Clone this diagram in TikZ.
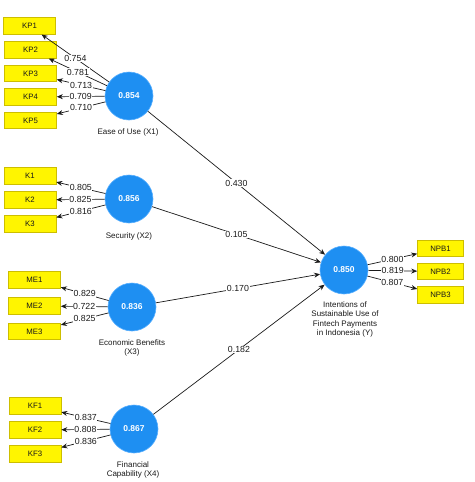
\documentclass[tikz,border=0pt]{standalone}
\usepackage{fontspec}
\setmainfont{Liberation Sans}
\usetikzlibrary{arrows.meta}
\definecolor{boxfill}{HTML}{FFF500}
\definecolor{boxline}{HTML}{CDBE00}
\definecolor{latfill}{HTML}{1E8FF2}
\definecolor{latline}{HTML}{5AB0FF}
\definecolor{txt}{HTML}{1A1A1A}
\begin{document}
\begin{tikzpicture}[x=1pt,y=-1pt,
  indbox/.style={draw=boxline,fill=boxfill,line width=0.6pt,minimum width=52pt,minimum height=16.5pt,inner sep=0pt,font=\fontsize{7.8}{8}\selectfont,text=txt},
  npbbox/.style={indbox,minimum width=46pt},
  latent/.style={circle,draw=latline,fill=latfill,line width=0.6pt,minimum size=48pt,inner sep=0pt,text=white,font=\fontsize{8.5}{9}\selectfont\bfseries},
  latlab/.style={align=center,font=\fontsize{8}{9.2}\selectfont,text=txt,inner sep=0pt},
  load/.style={midway,fill=white,inner sep=0.6pt,font=\fontsize{8.8}{9}\selectfont,text=txt},
  arr/.style={draw=txt,line width=0.7pt,-{Stealth[length=6pt,width=5pt]}}
]
\useasboundingbox (0,0) rectangle (474,482);
\fill[white] (0,0) rectangle (474,482);

% latent variables
\node[latent] (X1) at (129,96) {0.854};
\node[latent] (X2) at (129,199) {0.856};
\node[latent] (X3) at (132,307) {0.836};
\node[latent] (X4) at (134,429) {0.867};
\node[latent] (Y) at (344,270) {0.850};

\node[latlab] (L1) at (128,132) {Ease of Use (X1)};
\node[latlab] (L2) at (129,236) {Security (X2)};
\node[latlab] (L3) at (132,348) {Economic Benefits\\(X3)};
\node[latlab] (L4) at (133,470) {Financial\\Capability (X4)};
\node[latlab] (LY) at (345,319.5) {Intentions of\\Sustainable Use of\\Fintech Payments\\in Indonesia (Y)};

% indicators
\node[indbox] (KP1) at (29.5,26) {KP1};
\node[indbox] (KP2) at (30.5,50) {KP2};
\node[indbox] (KP3) at (30.5,73.5) {KP3};
\node[indbox] (KP4) at (30.5,97) {KP4};
\node[indbox] (KP5) at (30.5,120.5) {KP5};

\node[indbox] (K1) at (30,176) {K1};
\node[indbox] (K2) at (30,200) {K2};
\node[indbox] (K3) at (30,224) {K3};

\node[indbox] (ME1) at (34.5,280) {ME1};
\node[indbox] (ME2) at (34.5,306) {ME2};
\node[indbox] (ME3) at (34.5,331.5) {ME3};

\node[indbox] (KF1) at (35,406) {KF1};
\node[indbox] (KF2) at (35,430) {KF2};
\node[indbox] (KF3) at (35,454) {KF3};

\node[npbbox] (NPB1) at (440.5,248.5) {NPB1};
\node[npbbox] (NPB2) at (440.5,271.5) {NPB2};
\node[npbbox] (NPB3) at (440.5,295) {NPB3};

% outer loadings
\draw[arr] (X1) -- (KP1) node[load] {0.754};
\draw[arr] (X1) -- (KP2) node[load] {0.781};
\draw[arr] (X1) -- (KP3) node[load] {0.713};
\draw[arr] (X1) -- (KP4) node[load] {0.709};
\draw[arr] (X1) -- (KP5) node[load] {0.710};

\draw[arr] (X2) -- (K1) node[load] {0.805};
\draw[arr] (X2) -- (K2) node[load] {0.825};
\draw[arr] (X2) -- (K3) node[load] {0.816};

\draw[arr] (X3) -- (ME1) node[load] {0.829};
\draw[arr] (X3) -- (ME2) node[load] {0.722};
\draw[arr] (X3) -- (ME3) node[load] {0.825};

\draw[arr] (X4) -- (KF1) node[load] {0.837};
\draw[arr] (X4) -- (KF2) node[load] {0.808};
\draw[arr] (X4) -- (KF3) node[load] {0.836};

\draw[arr] (Y) -- (NPB1) node[load] {0.800};
\draw[arr] (Y) -- (NPB2) node[load] {0.819};
\draw[arr] (Y) -- (NPB3) node[load] {0.807};

% path coefficients
\draw[arr] (X1) -- (Y) node[load] {0.430};
\draw[arr] (X2) -- (Y) node[load] {0.105};
\draw[arr] (X3) -- (Y) node[load] {0.170};
\draw[arr] (X4) -- (Y) node[load] {0.182};
\end{tikzpicture}
\end{document}
